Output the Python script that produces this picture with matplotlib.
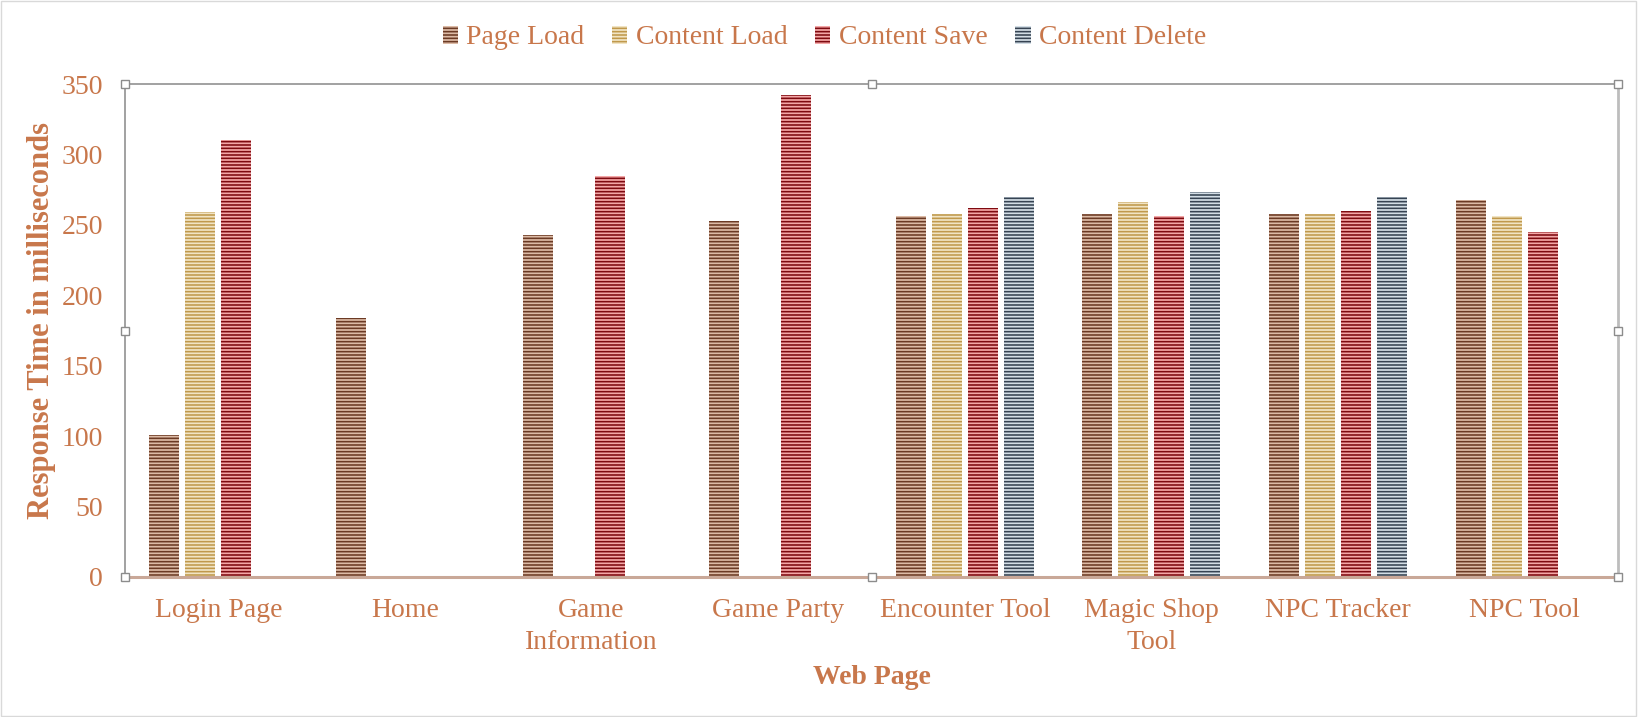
import numpy as np
import matplotlib
matplotlib.use("Agg")
import matplotlib.pyplot as plt
from matplotlib.patches import Rectangle

categories = ["Login Page", "Home", "Game\nInformation", "Game Party",
              "Encounter Tool", "Magic Shop\nTool", "NPC Tracker", "NPC Tool"]
series_names = ["Page Load", "Content Load", "Content Save", "Content Delete"]
page_load = [101, 184, 243, 253, 256, 258, 258, 268]
content_load = [259, np.nan, np.nan, np.nan, 258, 266, 258, 256]
content_save = [310, np.nan, 285, 342, 262, 256, 260, 245]
content_delete = [np.nan, np.nan, np.nan, np.nan, 270, 273, 270, np.nan]
y_ticks = [0, 50, 100, 150, 200, 250, 300, 350]

TXT = "#C8774B"
face_colors = ["#DDBBA6", "#F1E4C4", "#F4A7A7", "#D3DEE6"]
stripe_colors = ["#6B3A24", "#C0994C", "#7E0A10", "#364352"]

plt.rcParams["font.family"] = ["Liberation Serif", "DejaVu Serif"]
plt.rcParams["hatch.linewidth"] = 1.15

fig = plt.figure(figsize=(16.39, 7.17), dpi=100)
ax = fig.add_axes([125/1639, 1-577/717, (1618-125)/1639, (577-84)/717])

x = np.arange(len(categories))
slot = 0.193
width = 0.161
data = [page_load, content_load, content_save, content_delete]
for i, (vals, name) in enumerate(zip(data, series_names)):
    ax.bar(x + (i - 1.5) * slot, vals, width, label=name,
           facecolor=face_colors[i], edgecolor=stripe_colors[i],
           linewidth=0, hatch="-----", zorder=2)

ax.set_xlim(-0.5, len(categories) - 0.5)
ax.set_ylim(0, 350)
ax.set_yticks(y_ticks)
ax.set_xticks(x)
ax.set_xticklabels(categories, fontsize=20, color=TXT, linespacing=1.4)
ax.set_yticklabels([str(t) for t in y_ticks], fontsize=20, color=TXT)
ax.tick_params(axis="both", length=0)
ax.tick_params(axis="x", pad=15)
ax.tick_params(axis="y", pad=16)

ax.set_ylabel("Response Time in milliseconds", fontsize=22, fontweight="bold", color=TXT)
ax.yaxis.set_label_coords((42-125)/1493, 0.52)
ax.yaxis.label.set_va("center")
ax.set_xlabel("Web Page", fontsize=20, fontweight="bold", color=TXT)
ax.xaxis.set_label_coords(0.5, (577-678)/493)
ax.xaxis.label.set_va("center")

for s in ["left", "top"]:
    ax.spines[s].set_color("#9A9A9A")
    ax.spines[s].set_linewidth(1.3)
ax.spines["right"].set_color("#BDBDBD")
ax.spines["right"].set_linewidth(2.0)
ax.spines["bottom"].set_color("#C9A898")
ax.spines["bottom"].set_linewidth(2.2)

# selection handles
hx = [0, 0.5, 1, 0, 1, 0, 0.5, 1]
hy = [0, 0, 0, 0.5, 0.5, 1, 1, 1]
ax.plot(hx, hy, linestyle="none", marker="s", markersize=6, markerfacecolor="white",
        markeredgecolor="#8C8C8C", markeredgewidth=1.0, transform=ax.transAxes,
        clip_on=False, zorder=5)

leg = fig.legend(loc="center", bbox_to_anchor=(0.503, 1 - 38/717), ncol=4,
                 frameon=False, fontsize=20, handlelength=0.55, handleheight=0.6,
                 handletextpad=0.3, columnspacing=1.0)
for t in leg.get_texts():
    t.set_color(TXT)

fig.patches.append(Rectangle((1/1639, 1/717), 1635/1639, 715/717, transform=fig.transFigure,
                             fill=False, edgecolor="#D9D9D9", linewidth=1.0))

fig.savefig("out.png", dpi=100)
